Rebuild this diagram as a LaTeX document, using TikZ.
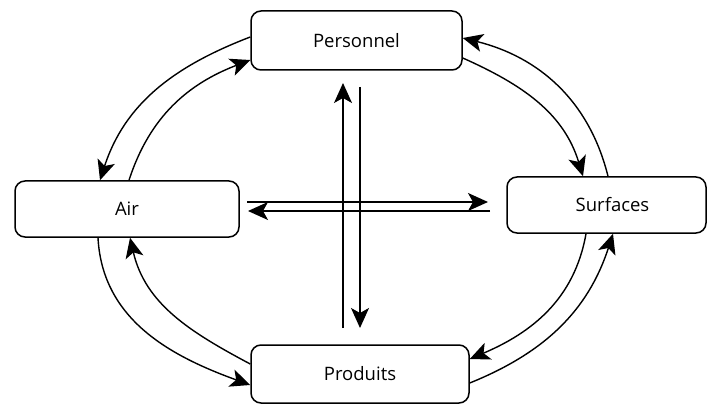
\documentclass[tikz,border=0pt]{standalone}
\usepackage{fontspec}
\setmainfont{Open Sans}
\usetikzlibrary{arrows.meta}
\begin{document}
\begin{tikzpicture}[x=1pt,y=1pt,
  box/.style={draw, line width=1.5pt, rounded corners=10pt, inner sep=0pt, font=\fontsize{18.5}{20}\selectfont},
  flow/.style={line width=1.4pt, -{Stealth[length=20pt,width=18pt,inset=5pt]}}]
\useasboundingbox (0,0) rectangle (707,405);
\node[box, minimum width=211pt, minimum height=59pt] (pers) at (356.5,364.5) {Personnel};
\node[box, minimum width=224pt, minimum height=56pt] (air) at (127,196) {Air};
\node[box, minimum width=199pt, minimum height=56pt] (surf) at (606.5,200) {\hspace*{12pt}Surfaces};
\node[box, minimum width=218pt, minimum height=58pt] (prod) at (360,31) {Produits};
% Personnel - Air
\draw[flow] ([yshift=3.5pt]pers.west) to[out=201,in=72] ([xshift=-27pt]air.north);
\draw[flow] ([xshift=2pt]air.north) to[out=72,in=201] ([yshift=-19.5pt]pers.west);
% Personnel - Surfaces
\draw[flow] ([xshift=1.5pt]surf.north) to[out=104,in=346] ([yshift=2.5pt]pers.east);
\draw[flow] ([yshift=-17.5pt]pers.east) to[out=-24,in=107] ([xshift=-23.5pt]surf.north);
% Surfaces - Produits
\draw[flow] ([yshift=-9pt]prod.east) to[out=22,in=252] ([xshift=6.5pt]surf.south);
\draw[flow] ([xshift=-20.5pt]surf.south) to[out=260,in=23] ([yshift=15pt]prod.east);
% Air - Produits
\draw[flow] ([xshift=-29pt]air.south) to[out=273,in=160] ([yshift=-11pt]prod.west);
\draw[flow] ([yshift=10pt]prod.west) to[out=152,in=283] ([xshift=3pt]air.south);
% cross
\coordinate (v1s) at (343,77);
\coordinate (v1e) at (343,322);
\coordinate (v2s) at (360,318);
\coordinate (v2e) at (360,77);
\coordinate (h1s) at (247,203);
\coordinate (h1e) at (488,203);
\coordinate (h2s) at (490,194);
\coordinate (h2e) at (248,194);
\draw[flow] (v1s) -- (v1e);
\draw[flow] (v2s) -- (v2e);
\draw[flow] (h1s) -- (h1e);
\draw[flow] (h2s) -- (h2e);
\end{tikzpicture}
\end{document}
